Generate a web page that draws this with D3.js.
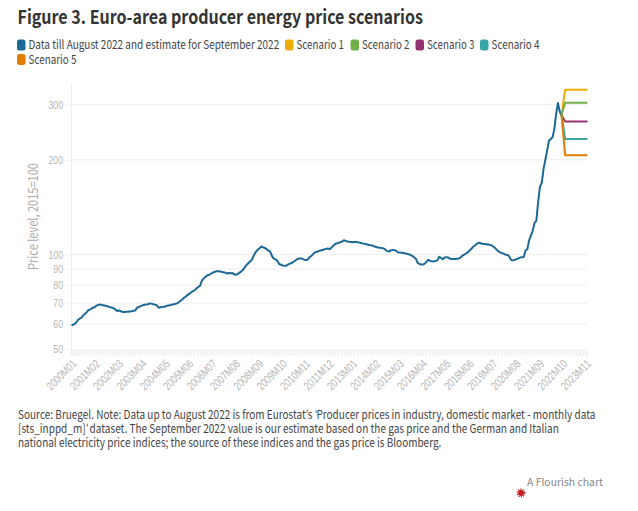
<!DOCTYPE html>
<html><head><meta charset="utf-8">
<script src="https://cdn.jsdelivr.net/npm/d3@7"></script>
<style>
@font-face{font-family:"Quo";src:local("Lato Regular"),local("Lato"),local("Open Sans");unicode-range:U+2018-2019;}
html,body{margin:0;padding:0;background:#fff;}
svg{display:block;font-family:"Quo","Noto Sans CJK SC","Open Sans",sans-serif;}
</style></head><body>
<svg id="c" width="638" height="511"></svg>
<script>
const title = "Figure 3. Euro-area producer energy price scenarios";
const yTitle = "Price level, 2015=100";
const yTicks = [50,60,70,80,90,100,200,300];
const seriesNames = ["Data till August 2022 and estimate for September 2022","Scenario 1","Scenario 2","Scenario 3","Scenario 4","Scenario 5"];
const seriesColors = ["#1d6996","#edad08","#73af48","#94346e","#38a6a5","#e17c05"];
const years = d3.range(2000,2024);
const monthNames = ["01","02","03","04","05","06","07","08","09","10","11","12"];
const categories = years.flatMap(y => monthNames.map(m => y+"M"+m)).filter(c => c <= "2023M11");
const history = [
59.7,60.0,60.6,61.8,62.5,62.9,64,64.7,65.6,66.6,66.9,67.6,
67.8,68.5,69.0,69.3,69.2,69.0,68.8,68.6,68.3,68,67.8,67.5,
66.8,66.1,66.4,66.0,65.7,65.7,65.8,65.8,65.9,66.0,66.3,66.4,
67.8,68.1,68.5,68.9,69.2,69.3,69.5,69.9,69.8,69.5,69.3,69,
67.7,68,68.1,68.2,68.5,68.8,68.9,69.2,69.4,69.6,69.9,70.3,
71.2,71.8,72.8,73.4,74.3,75,75.7,76.5,76.9,78,78.9,79.4,
82.5,83.9,84.9,85.8,86.2,86.8,87.5,88,88.4,88.4,88.3,88.2,
87.7,87.6,87,87.3,87.2,87.3,86.5,86.2,86.8,87.6,88.4,89.5,
91.3,92.8,94,95.2,96.5,99.5,101.8,103.5,104.5,106,105.5,105,
104,103,102.2,99,97,96.5,95.5,93.3,92.8,92.3,92.1,92.1,
93,93.5,94,94.8,95.7,96.6,97.2,97.2,96.9,96.3,96,96.4,
98.3,99,100.5,101.6,102,102.5,103,103.4,103.8,104.2,104.5,104,
105,106.5,107.8,108.5,109,109.4,110,111,110.5,110,109.7,109.6,
109.4,109.5,109.6,109.3,109,108.6,108.3,108,107.6,107.2,107,106.8,
106,105.6,105.3,105,104.8,104.6,103.8,102.5,102.2,103,103.4,103.3,
102.8,101.7,101.4,101.3,101.1,100.9,100.5,100.2,99.7,99,98,97,
94,93.3,93,92.9,93.5,95,96.2,95.4,95.1,95.2,95.4,95.8,
98.4,97.5,96.6,97.8,98.1,97.8,97,96.7,96.7,96.8,97,97.1,
98,99.3,100,100.8,101.8,103.2,104.5,106,107,108.2,109,108.6,
108.2,108,107.8,107.6,107.4,107,106,105,103.5,102.2,101.5,101,
100.5,99.8,99.7,98.5,96,95.8,96.2,96.7,97.2,97.8,98.1,98.2,
103,104,111,115,119,126,128,147,164,169,187,200,
214,230,233,236,250,280,303,285,277
];
const scenarioMonths = ["2022M09","2022M10","2022M11","2022M12","2023M01","2023M02","2023M03","2023M04","2023M05","2023M06","2023M07","2023M08","2023M09","2023M10","2023M11"];
const scenario1 = [277,304,334,334,334,334,334,334,334,334,334,334,334,334,334];
const scenario2 = [277,290,304,304,304,304,304,304,304,304,304,304,304,304,304];
const scenario3 = [277,271,265,265,265,265,265,265,265,265,265,265,265,265,265];
const scenario4 = [277,255,233,233,233,233,233,233,233,233,233,233,233,233,233];
const scenario5 = [277,240,207,207,207,207,207,207,207,207,207,207,207,207,207];
const footLines = [
"Source: Bruegel. Note: Data up to August 2022 is from Eurostat’s ‘Producer prices in industry, domestic market - monthly data",
"[sts_inppd_m]’ dataset. The September 2022 value is our estimate based on the gas price and the German and Italian",
"national electricity price indices; the source of these indices and the gas price is Bloomberg."];

const svg = d3.select("#c");
const fit = (sel,w) => sel.attr("textLength",w).attr("lengthAdjust","spacingAndGlyphs");
// place a horizontal text at (px,py) and squeeze it to width w with a transform, so its box stays true
const place = (sel,px,py,w) => {
  const k = w / sel.node().getComputedTextLength();
  return sel.attr("x",0).attr("y",0).attr("transform",`translate(${px},${py}) scale(${k},1)`);
};
const x = d3.scalePoint().domain(categories).range([72.3,586.7]);
const y = d3.scaleLog().domain([50,351]).range([349.2,83]);

place(svg.append("text").attr("font-size",18.6).attr("font-weight",700).attr("fill","#333").text(title),17.5,23.5,405.5);

// legend
const legendPos = [[17,45],[285,45],[350.5,45],[415.5,45],[480,45],[17,59.5]];
const legendWidths = [251,47.5,47.5,47.5,48,48];
const lg = svg.append("g");
seriesNames.forEach((n,i)=>{
  const [lx,ly]=legendPos[i];
  lg.append("rect").attr("x",lx).attr("y",ly-5.5).attr("width",8.5).attr("height",11).attr("rx",2.5).attr("fill",seriesColors[i]);
  place(lg.append("text").attr("font-size",12).attr("fill","#444").text(n),lx+11.5,ly+4,legendWidths[i]);
});

// y axis
const yAxis = d3.axisLeft(y).tickValues(yTicks).tickFormat(d3.format("d")).tickSize(5).tickPadding(3.5);
const gy = svg.append("g").attr("transform","translate(71.5,0)").call(yAxis);
gy.select(".domain").attr("stroke","#eee").attr("stroke-width",1).attr("d","M0,83V355");
gy.selectAll(".tick line").attr("stroke","#eee");
gy.selectAll(".tick text").attr("fill","#b5b5b5").attr("font-size",11.5).attr("font-family","inherit")
  .each(function(d){ fit(d3.select(this), d>=100?14.5:9.7); });
svg.append("g").selectAll("line").data(yTicks.filter(t=>t>50)).join("line")
  .attr("x1",72).attr("x2",587).attr("y1",d=>y(d)).attr("y2",d=>y(d)).attr("stroke","#eee").attr("stroke-width",1);

// x axis
const labelled = categories.filter((c,i)=>i%13===0);
const xAxis = d3.axisBottom(x).tickValues(categories).tickSize(6).tickPadding(4)
  .tickFormat(c=>labelled.includes(c)?c:"");
const gx = svg.append("g").attr("transform","translate(0,349.5)").call(xAxis);
gx.select(".domain").attr("stroke","#eee");
gx.selectAll(".tick line").attr("stroke","#eee").attr("stroke-width",1);
gx.selectAll(".tick text").attr("fill","#b5b5b5").attr("font-size",11.5).attr("font-family","inherit")
  .attr("text-anchor","end").attr("dy",0)
  .attr("transform","translate(4.5,15) rotate(-45)").attr("x",0).attr("y",0)
  .filter(c=>labelled.includes(c)).call(fit,37);

const yt = svg.append("text").attr("font-size",13.5).attr("fill","#aaa").text(yTitle);
yt.attr("x",0).attr("y",0).attr("transform",`translate(37.5,270) rotate(-90) scale(${107/yt.node().getComputedTextLength()},1)`);

// lines
const line = d3.line().x(d=>x(d.c)).y(d=>y(d.v));
const histData = history.map((v,i)=>({c:categories[i],v}));
const drawLine=(data,color)=>svg.append("path").datum(data).attr("d",line).attr("fill","none")
  .attr("stroke",color).attr("stroke-width",2).attr("stroke-linejoin","round").attr("stroke-linecap","round");
drawLine(histData,seriesColors[0]);
[scenario1,scenario2,scenario3,scenario4,scenario5].forEach((s,i)=>{
  drawLine(s.map((v,j)=>({c:scenarioMonths[j],v})),seriesColors[i+1]);
});

// footer
const footWidths = [579,542,424];
svg.append("g").selectAll("text").data(footLines).join("text")
  .attr("font-size",12).attr("fill","#444").text(d=>d)
  .each(function(d,i){ place(d3.select(this),18,418.5+i*14.2,footWidths[i]); });
place(svg.append("text").attr("font-size",10).attr("fill","#888").text("A Flourish chart"),527,486,76);
svg.append("circle").attr("cx",521).attr("cy",493).attr("r",3).attr("fill","#c41e1e");
svg.append("circle").attr("cx",521).attr("cy",493).attr("r",3.8).attr("fill","none").attr("stroke","#c41e1e").attr("stroke-width",1.4).attr("stroke-dasharray","1.2 1.2");
</script></body></html>
